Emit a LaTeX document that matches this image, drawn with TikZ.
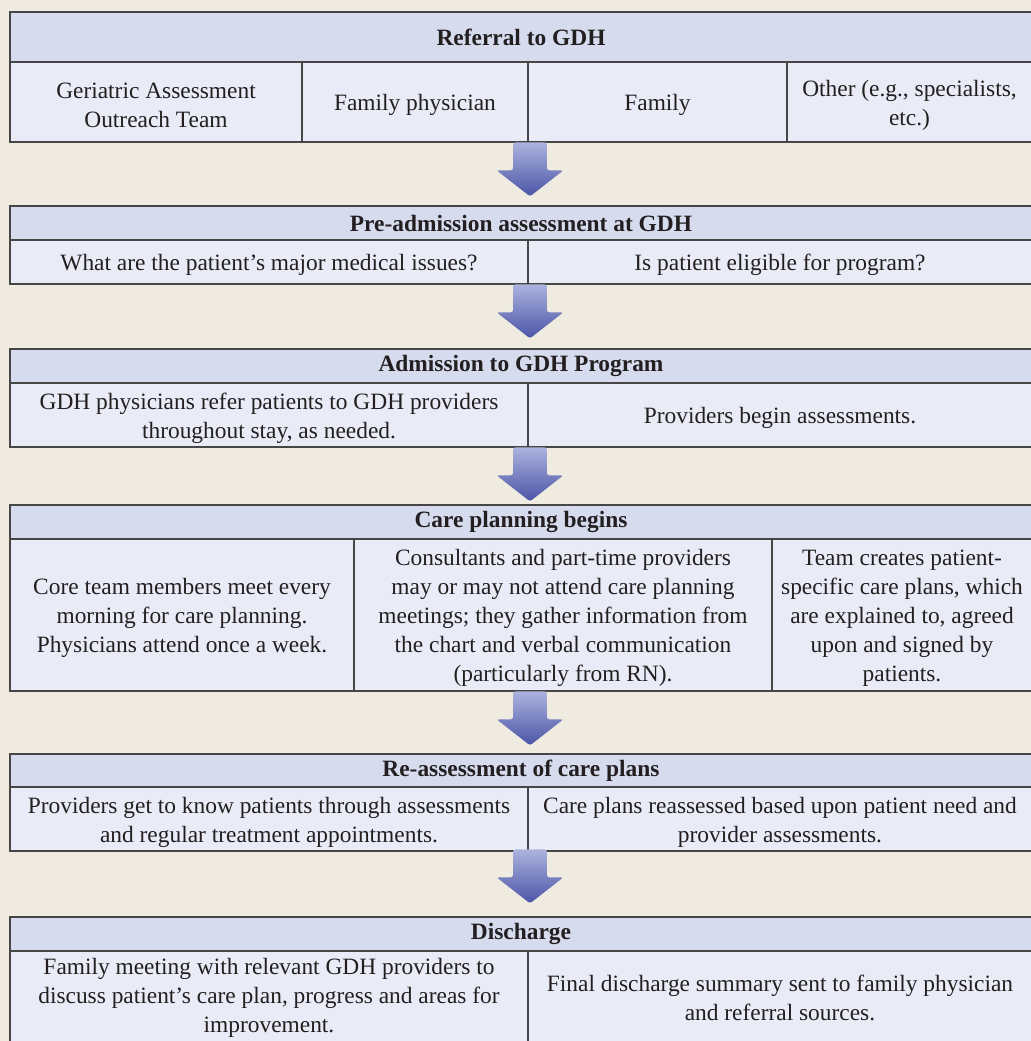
\documentclass[tikz,border=0pt]{standalone}
\usepackage{fontspec}
\setmainfont{Liberation Serif}
\usetikzlibrary{shapes.arrows}
\definecolor{gdhbg}{RGB}{240,235,225}
\definecolor{gdhhead}{RGB}{214,220,238}
\definecolor{gdhcell}{RGB}{233,235,246}
\definecolor{gdhline}{RGB}{70,70,70}
\definecolor{gdhtext}{RGB}{35,31,32}
\definecolor{arrtop}{RGB}{172,179,222}
\definecolor{arrbot}{RGB}{74,84,166}
\newcommand{\gdhfont}{\fontsize{11.7pt}{14.5pt}\selectfont}
\tikzset{
  hdrbox/.style={draw=gdhline, fill=gdhhead, line width=0.75pt},
  cellbox/.style={draw=gdhline, fill=gdhcell, line width=0.75pt},
  hdrtxt/.style={inner sep=0pt, font=\gdhfont\bfseries, text=gdhtext},
  celltxt/.style={inner sep=0pt, align=center, font=\gdhfont, text=gdhtext},
  flowarr/.style={single arrow, draw=none, top color=arrtop, bottom color=arrbot,
    rotate=-90, minimum height=27pt, inner xsep=0pt, inner ysep=8.25pt,
    single arrow head extend=8.25pt, single arrow tip angle=104,
    rounded corners=1.2pt, anchor=tail}
}

\begin{document}
\begin{tikzpicture}[x=0.5pt, y=-0.5pt]
  \useasboundingbox (0,0) rectangle (1031,1041);
  \fill[gdhbg] (0,0) rectangle (1031,1041);
  \clip (0,0) rectangle (1031,1041);

  % Referral
  \draw[hdrbox] (10,12) rectangle (1032,62);
  \node[hdrtxt] (hRef) at (521,37) {Referral to GDH};
  \draw[cellbox] (10,62) rectangle (302,142);
  \draw[cellbox] (302,62) rectangle (528,142);
  \draw[cellbox] (528,62) rectangle (787,142);
  \draw[cellbox] (787,62) rectangle (1032,142);
  \node[celltxt] (cGaot) at (156,105) {Geriatric Assessment\\Outreach Team};
  \node[celltxt] (cFamPhys) at (415,105) {Family physician};
  \node[celltxt] (cFamily) at (657.5,105) {Family};
  \node[celltxt] (cOther) at (909.5,105) {Other (e.g., specialists,\\etc.)};

  \node[flowarr] (a1) at (530,142) {};

  % Pre-admission
  \draw[hdrbox] (10,206) rectangle (1032,240);
  \node[hdrtxt] (hPre) at (521,223) {Pre-admission assessment at GDH};
  \draw[cellbox] (10,240) rectangle (528,284);
  \draw[cellbox] (528,240) rectangle (1032,284);
  \node[celltxt] (cIssues) at (269,265) {What are the patient’s major medical issues?};
  \node[celltxt] (cEligible) at (780,265) {Is patient eligible for program?};

  \node[flowarr] (a2) at (530,284) {};

  % Admission
  \draw[hdrbox] (10,349) rectangle (1032,383);
  \node[hdrtxt] (hAdm) at (521,366) {Admission to GDH Program};
  \draw[cellbox] (10,383) rectangle (528,447);
  \draw[cellbox] (528,383) rectangle (1032,447);
  \node[celltxt] (cRefer) at (269,418) {GDH physicians refer patients to GDH providers\\throughout stay, as needed.};
  \node[celltxt] (cAssess) at (780,418) {Providers begin assessments.};

  \node[flowarr] (a3) at (530,447) {};

  % Care planning
  \draw[hdrbox] (10,505) rectangle (1032,539);
  \node[hdrtxt] (hCare) at (521,522) {Care planning begins};
  \draw[cellbox] (10,539) rectangle (354,691);
  \draw[cellbox] (354,539) rectangle (772,691);
  \draw[cellbox] (772,539) rectangle (1032,691);
  \node[celltxt] (cCore) at (182,618) {Core team members meet every\\morning for care planning.\\Physicians attend once a week.};
  \node[celltxt] (cConsult) at (563,618) {Consultants and part-time providers\\may or may not attend care planning\\meetings; they gather information from\\the chart and verbal communication\\(particularly from RN).};
  \node[celltxt] (cTeam) at (902,618) {Team creates patient-\\specific care plans, which\\are explained to, agreed\\upon and signed by\\patients.};

  \node[flowarr] (a4) at (530,691) {};

  % Re-assessment
  \draw[hdrbox] (10,754) rectangle (1032,787);
  \node[hdrtxt] (hReass) at (521,770.5) {Re-assessment of care plans};
  \draw[cellbox] (10,787) rectangle (528,851);
  \draw[cellbox] (528,787) rectangle (1032,851);
  \node[celltxt] (cKnow) at (269,822) {Providers get to know patients through assessments\\and regular treatment appointments.};
  \node[celltxt] (cPlans) at (780,822) {Care plans reassessed based upon patient need and\\provider assessments.};

  \node[flowarr] (a5) at (530,849) {};

  % Discharge
  \draw[hdrbox] (10,917) rectangle (1032,951);
  \node[hdrtxt] (hDis) at (521,934) {Discharge};
  \draw[cellbox] (10,951) rectangle (528,1044);
  \draw[cellbox] (528,951) rectangle (1032,1044);
  \node[celltxt] (cMeeting) at (269,998) {Family meeting with relevant GDH providers to\\discuss patient’s care plan, progress and areas for\\improvement.};
  \node[celltxt] (cSummary) at (780,998) {Final discharge summary sent to family physician\\and referral sources.};
\end{tikzpicture}
\end{document}
